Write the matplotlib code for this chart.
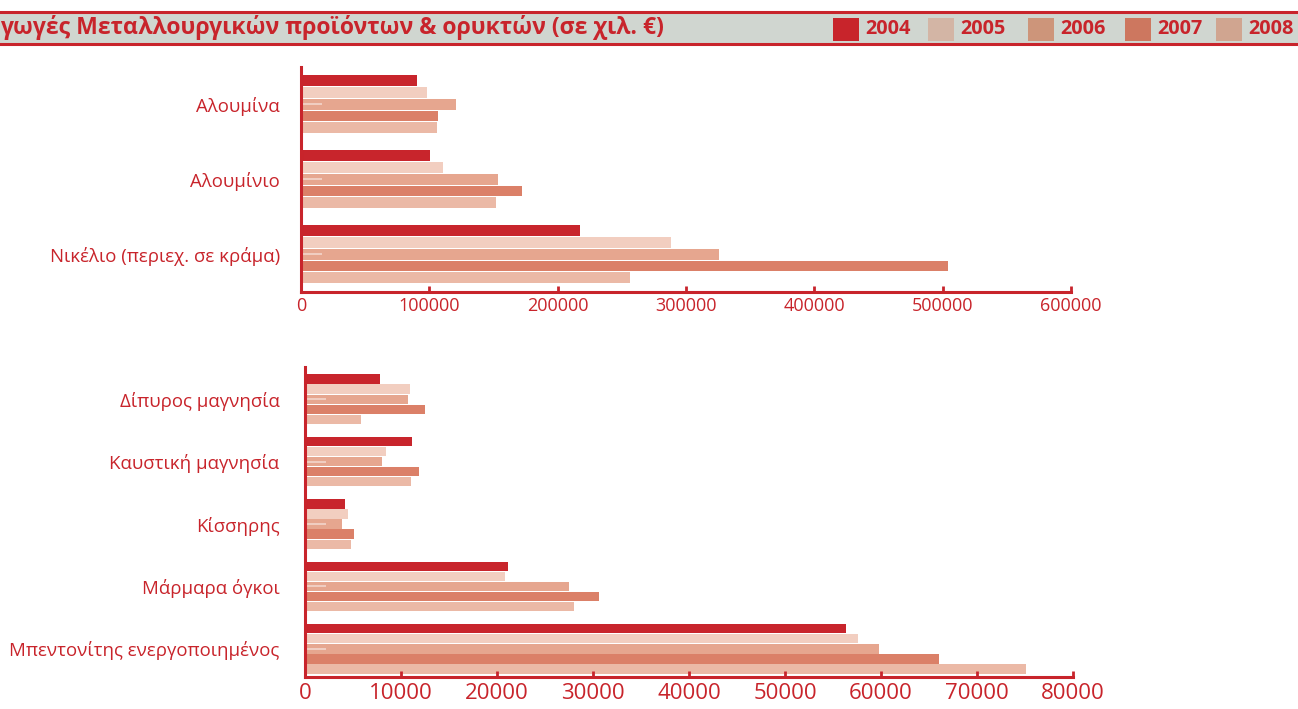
import numpy as np
import matplotlib.pyplot as plt
from matplotlib.patches import Rectangle

# Δεδομένα (σε χιλ. €)
years = ["2004", "2005", "2006", "2007", "2008"]

top_cats = ["Αλουμίνα", "Αλουμίνιο", "Νικέλιο (περιεχ. σε κράμα)"]
top_2004 = [90600, 100800, 217200]
top_2005 = [98400, 110900, 288300]
top_2006 = [120800, 153600, 325800]
top_2007 = [107000, 171900, 503900]
top_2008 = [106250, 152300, 256250]

bot_cats = ["Δίπυρος μαγνησία", "Καυστική μαγνησία", "Κίσσηρης",
            "Μάρμαρα όγκοι", "Μπεντονίτης ενεργοποιημένος"]
bot_2004 = [7780, 11110, 4130, 21100, 56300]
bot_2005 = [10900, 8400, 4450, 20780, 57560]
bot_2006 = [10700, 8020, 3860, 27480, 59800]
bot_2007 = [12470, 11840, 5070, 30600, 66000]
bot_2008 = [5800, 11010, 4760, 28000, 75150]

top_ticks = [0, 100000, 200000, 300000, 400000, 500000, 600000]
bot_ticks = [0, 10000, 20000, 30000, 40000, 50000, 60000, 70000, 80000]

RED = "#C8242B"
bar_colors = ["#C8252C", "#F2CEC0", "#E6A68F", "#DB8068", "#EBB9A6"]
leg_colors = ["#C8242B", "#D3B5A5", "#CD957A", "#CD775F", "#D0A590"]

plt.rcParams['font.family'] = ['Open Sans', 'DejaVu Sans']

W, H = 1298, 709
fig = plt.figure(figsize=(W / 100, H / 100), dpi=100)


def fx(px):
    return px / W


def fy(py):
    return 1 - py / H


# Ταινία τίτλου
fig.patches.append(Rectangle((0, fy(44)), 1, fy(12) - fy(44), transform=fig.transFigure,
                             facecolor="#D0D6D0", edgecolor="none", zorder=0))
for yy in (12.2, 43.8):
    fig.add_artist(plt.Line2D([0, 1], [fy(yy), fy(yy)], transform=fig.transFigure,
                              color=RED, lw=2.2))
fig.text(fx(0), fy(28), "γωγές Μεταλλουργικών προϊόντων & ορυκτών (σε χιλ. €)",
         color=RED, fontsize=16.6, fontweight="bold", va="center", ha="left")

# Υπόμνημα
leg_x = [833, 928, 1028, 1125, 1216]
for x0, yr, c in zip(leg_x, years, leg_colors):
    fig.patches.append(Rectangle((fx(x0), fy(41)), fx(26), fy(18) - fy(41),
                                 transform=fig.transFigure, facecolor=c, edgecolor="none"))
    fig.text(fx(x0 + 32), fy(29), yr, color=RED, fontsize=14.3, fontweight="bold",
             va="center", ha="left")


def draw(ax, cats, series, ticks, group_h, ylim, fs_tick, ypad):
    n = len(series)
    bh = group_h / n
    centers = np.arange(len(cats))
    for i, vals in enumerate(series):
        y = centers - group_h / 2 + (i + 0.5) * bh
        ax.barh(y, vals, height=bh * 0.92, color=bar_colors[i], edgecolor="none", zorder=1)
    ax.set_ylim(*ylim)
    ax.set_xlim(0, ticks[-1])
    ax.set_xticks(ticks)
    ax.set_xticklabels([str(t) for t in ticks], color=RED, fontsize=fs_tick)
    ax.set_yticks(centers)
    ax.set_yticklabels(cats, color=RED, fontsize=13.4)
    ax.tick_params(axis="x", direction="in", length=4, width=2, color=RED, pad=4)
    ax.tick_params(axis="y", direction="in", length=15, width=1.2, color="#F3D6CC", pad=ypad)
    for s in ("top", "right"):
        ax.spines[s].set_visible(False)
    for s in ("left", "bottom"):
        ax.spines[s].set_color(RED)
        ax.spines[s].set_linewidth(2.2)
    ax.set_facecolor("none")


ax1 = fig.add_axes([fx(301), fy(291.7), fx(1071 - 301), fy(66.7) - fy(291.7)])
draw(ax1, top_cats, [top_2004, top_2005, top_2006, top_2007, top_2008],
     top_ticks, 0.787, (2.5, -0.5), 13, 15)

ax2 = fig.add_axes([fx(305.3), fy(677), fx(1073 - 305.3), fy(366.7) - fy(677)])
draw(ax2, bot_cats, [bot_2004, bot_2005, bot_2006, bot_2007, bot_2008],
     bot_ticks, 0.806, (4.45, -0.52), 16, 18.5)

fig.savefig("out.png", dpi=100)
